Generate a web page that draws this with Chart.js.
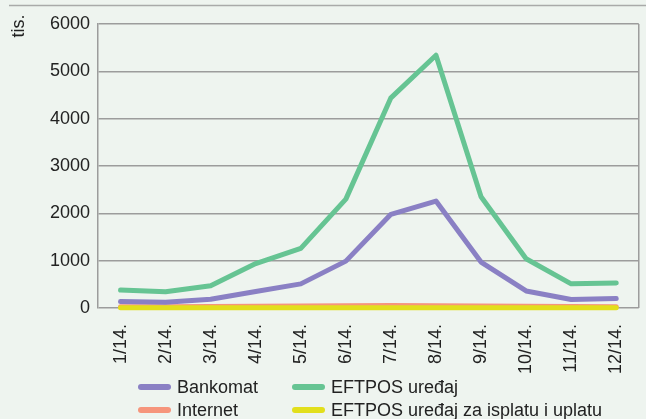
<!DOCTYPE html>
<html>
<head>
<meta charset="utf-8">
<script src="https://cdn.jsdelivr.net/npm/chart.js@4.4.1/dist/chart.umd.min.js"></script>
<style>
    html, body { margin: 0; padding: 0; background: #eef4ef; }
    #wrap { position: relative; width: 646px; height: 419px; }
</style>
</head>
<body>
<div id="wrap"><canvas id="chart" width="646" height="419"></canvas></div>
<script>
// --- data -------------------------------------------------------------------
const months = ['1/14.', '2/14.', '3/14.', '4/14.', '5/14.', '6/14.',
                '7/14.', '8/14.', '9/14.', '10/14.', '11/14.', '12/14.'];
const yTicks = [0, 1000, 2000, 3000, 4000, 5000, 6000];

const bankomat = [135, 120, 185, 350, 510, 990, 1980, 2260, 970, 360, 180, 200];
const eftpos   = [380, 345, 470, 940, 1260, 2300, 4440, 5340, 2350, 1040, 510, 530];
const internet = [25, 25, 30, 35, 40, 45, 55, 50, 40, 35, 30, 25];
const eftposIsplata = [5, 5, 5, 5, 5, 5, 6, 6, 5, 5, 5, 5];

const seriesNames = ['Bankomat', 'EFTPOS uređaj', 'Internet', 'EFTPOS uređaj za isplatu i uplatu'];
const seriesColors = ['#8a80c4', '#66c493', '#f6957c', '#e2df1c'];

const FONT = '"Liberation Sans", Arial, sans-serif';
const TEXT = '#222';
const GRID = '#9c9c9c';

function line(i, data, order) {
    return {
        label: seriesNames[i],
        data,
        borderColor: seriesColors[i],
        backgroundColor: seriesColors[i],
        borderWidth: 5,
        borderJoinStyle: 'round',
        borderCapStyle: 'round',
        pointRadius: 0,
        tension: 0,
        clip: false,
        order
    };
}

// frame, header rule, "tis." label and the two-column legend
const decorPlugin = {
    id: 'decor',
    beforeDraw(chart) {
        const ctx = chart.ctx;
        ctx.save();
        ctx.strokeStyle = '#a9aaa9';
        ctx.lineWidth = 1.5;
        ctx.beginPath();
        ctx.moveTo(9, 5.5);
        ctx.lineTo(646, 5.5);
        ctx.stroke();
        ctx.restore();
    },
    afterDraw(chart) {
        const ctx = chart.ctx;
        const a = chart.chartArea;
        ctx.save();
        ctx.strokeStyle = GRID;
        ctx.lineWidth = 1.5;
        ctx.beginPath();
        ctx.moveTo(a.right, a.top);
        ctx.lineTo(a.right, a.bottom);
        ctx.stroke();

        ctx.fillStyle = TEXT;
        ctx.font = '18px ' + FONT;
        ctx.translate(19, 26);
        ctx.rotate(-Math.PI / 2);
        ctx.textAlign = 'center';
        ctx.textBaseline = 'middle';
        ctx.fillText('tis.', 0, 0);
        ctx.restore();

        // legend
        const cols = [138, 292];
        const rows = [387, 410];
        ctx.save();
        ctx.font = '18px ' + FONT;
        ctx.textBaseline = 'middle';
        ctx.textAlign = 'left';
        chart.data.datasets.forEach((ds, i) => {
            const x = cols[i % 2];
            const y = rows[Math.floor(i / 2)];
            ctx.strokeStyle = ds.borderColor;
            ctx.lineWidth = 6;
            ctx.lineCap = 'round';
            ctx.beginPath();
            ctx.moveTo(x + 3, y);
            ctx.lineTo(x + 30, y);
            ctx.stroke();
            ctx.fillStyle = TEXT;
            ctx.fillText(ds.label, x + 39, y + 1);
        });
        ctx.restore();
    }
};

new Chart(document.getElementById('chart'), {
    type: 'line',
    data: {
        labels: months,
        datasets: [
            line(0, bankomat, 1),
            line(1, eftpos, 1),
            line(2, internet, 1),
            line(3, eftposIsplata, 0)
        ]
    },
    options: {
        responsive: false,
        animation: false,
        layout: { padding: { top: 24, right: 4, left: 0, bottom: 0 } },
        plugins: {
            legend: { display: false },
            tooltip: { enabled: false }
        },
        scales: {
            x: {
                offset: true,
                grid: { display: false },
                border: { display: false },
                ticks: {
                    color: TEXT,
                    font: { family: FONT, size: 18 },
                    minRotation: 90,
                    maxRotation: 90,
                    padding: 8,
                    autoSkip: false
                },
                afterFit(scale) { scale.height = 111; }
            },
            y: {
                min: 0,
                max: 6000,
                afterBuildTicks(scale) { scale.ticks = yTicks.map(v => ({ value: v })); },
                grid: { color: GRID, lineWidth: 1.5, drawTicks: false },
                border: { color: GRID, width: 1.5 },
                ticks: {
                    color: TEXT,
                    font: { family: FONT, size: 18 },
                    padding: 8,
                    callback: v => String(v)
                },
                afterFit(scale) { scale.width = 98; }
            }
        }
    },
    plugins: [decorPlugin]
});
</script>
</body>
</html>
